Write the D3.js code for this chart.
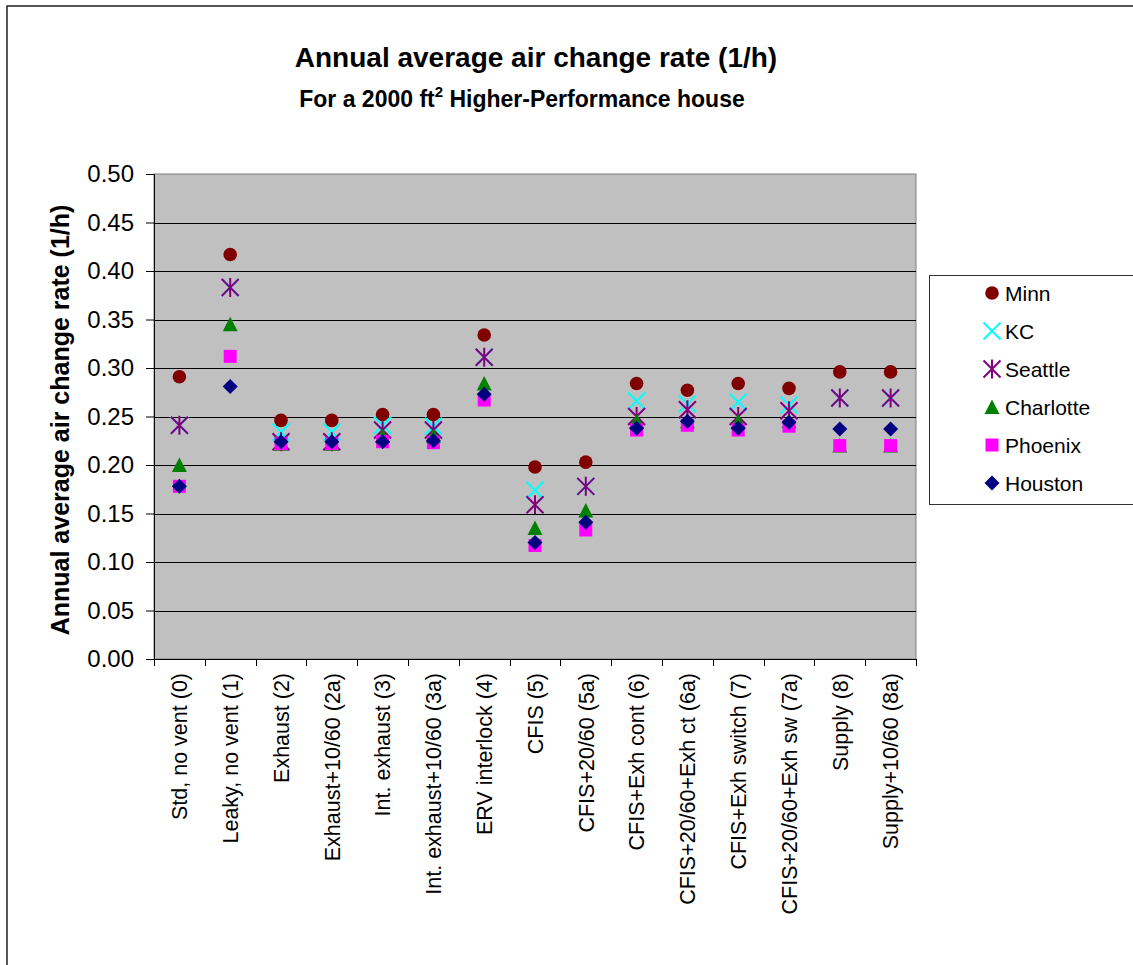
<!DOCTYPE html>
<html>
<head>
<meta charset="utf-8">
<script src="https://cdn.jsdelivr.net/npm/d3@7"></script>
<style>
  html, body { margin: 0; padding: 0; background: #fff; }
  svg { display: block; }
  text { font-family: "Liberation Sans", Arial, Helvetica, sans-serif; fill: #000; }
</style>
</head>
<body>
<svg id="chart" width="1133" height="965"></svg>
<script>
// Ventilation strategies (x categories)
const categories = [
  "Std, no vent (0)", "Leaky, no vent (1)", "Exhaust (2)", "Exhaust+10/60 (2a)",
  "Int. exhaust (3)", "Int. exhaust+10/60 (3a)", "ERV interlock (4)", "CFIS (5)",
  "CFIS+20/60 (5a)", "CFIS+Exh cont (6)", "CFIS+20/60+Exh ct (6a)", "CFIS+Exh switch (7)",
  "CFIS+20/60+Exh sw (7a)", "Supply (8)", "Supply+10/60 (8a)"
];

// Annual average air change rate (1/h) per city
const minn      = [0.291, 0.417, 0.246, 0.246, 0.252, 0.252, 0.334, 0.198, 0.203, 0.284, 0.277, 0.284, 0.279, 0.296, 0.296];
const kc        = [0.241, 0.383, 0.234, 0.234, 0.241, 0.240, 0.311, 0.174, 0.178, 0.266, 0.263, 0.265, 0.262, 0.269, 0.269];
const seattle   = [0.241, 0.383, 0.224, 0.224, 0.236, 0.236, 0.311, 0.159, 0.178, 0.250, 0.257, 0.250, 0.256, 0.269, 0.269];
const charlotte = [0.200, 0.345, 0.222, 0.222, 0.230, 0.230, 0.284, 0.135, 0.153, 0.245, 0.245, 0.245, 0.245, 0.220, 0.220];
const phoenix   = [0.178, 0.312, 0.222, 0.222, 0.224, 0.223, 0.267, 0.117, 0.133, 0.236, 0.241, 0.236, 0.240, 0.220, 0.220];
const houston   = [0.178, 0.281, 0.224, 0.224, 0.224, 0.225, 0.273, 0.120, 0.141, 0.238, 0.245, 0.238, 0.244, 0.237, 0.237];

const seriesNames = ["Minn", "KC", "Seattle", "Charlotte", "Phoenix", "Houston"];
const yTicks = [0.00, 0.05, 0.10, 0.15, 0.20, 0.25, 0.30, 0.35, 0.40, 0.45, 0.50];

const series = [
  { name: "Minn",      values: minn,      color: "#800000", shape: "circle" },
  { name: "KC",        values: kc,        color: "#00FFFF", shape: "cross" },
  { name: "Seattle",   values: seattle,   color: "#800080", shape: "asterisk" },
  { name: "Charlotte", values: charlotte, color: "#008000", shape: "triangle" },
  { name: "Phoenix",   values: phoenix,   color: "#FF00FF", shape: "square" },
  { name: "Houston",   values: houston,   color: "#000080", shape: "diamond" }
];

const svg = d3.select("#chart");
const plot = { left: 154, right: 916, top: 174, bottom: 659 };

const x = d3.scaleBand().domain(categories).range([plot.left, plot.right]).padding(0);
const y = d3.scaleLinear().domain([0, 0.5]).range([plot.bottom, plot.top]);

// Outer chart frame
svg.append("rect")
  .attr("x", 7).attr("y", 6).attr("width", 1140).attr("height", 975)
  .attr("fill", "none").attr("stroke", "#222").attr("stroke-width", 1.5);

// Titles
svg.append("text")
  .attr("x", 536).attr("y", 67)
  .attr("text-anchor", "middle")
  .attr("font-size", 28).attr("font-weight", "bold")
  .text("Annual average air change rate (1/h)");

const sub = svg.append("text")
  .attr("x", 522).attr("y", 107)
  .attr("text-anchor", "middle")
  .attr("font-size", 23).attr("font-weight", "bold");
sub.append("tspan").text("For a 2000 ft");
sub.append("tspan").attr("font-size", 15).attr("dy", -10).text("2");
sub.append("tspan").attr("dy", 10).text(" Higher-Performance house");

// Plot area background
svg.append("rect")
  .attr("x", plot.left).attr("y", plot.top)
  .attr("width", plot.right - plot.left).attr("height", plot.bottom - plot.top)
  .attr("fill", "#C0C0C0").attr("stroke", "#808080").attr("stroke-width", 1);

// Horizontal gridlines
svg.append("g")
  .selectAll("line")
  .data(yTicks.filter(t => t > 0 && t < 0.5))
  .join("line")
  .attr("x1", plot.left).attr("x2", plot.right)
  .attr("y1", d => Math.round(y(d)) + 0.5).attr("y2", d => Math.round(y(d)) + 0.5)
  .attr("stroke", "#000").attr("stroke-width", 1);

// Y axis
const yAxis = svg.append("g")
  .attr("transform", `translate(${plot.left},0)`)
  .call(d3.axisLeft(y).tickValues(yTicks).tickSize(8).tickPadding(12).tickFormat(d3.format(".2f")));
yAxis.select(".domain").attr("stroke", "#000");
yAxis.selectAll(".tick line").attr("stroke", "#000");
yAxis.selectAll(".tick text")
  .attr("font-size", 24)
  .attr("font-family", "'Liberation Sans', Arial, sans-serif")
  .attr("fill", "#000");

// X axis line and category boundary ticks
svg.append("line")
  .attr("x1", plot.left).attr("x2", plot.right)
  .attr("y1", plot.bottom + 0.5).attr("y2", plot.bottom + 0.5)
  .attr("stroke", "#000");
const boundaries = categories.map(c => x(c)).concat([x(categories[categories.length - 1]) + x.bandwidth()]);
svg.append("g").selectAll("line")
  .data(boundaries)
  .join("line")
  .attr("x1", d => Math.round(d) + 0.5).attr("x2", d => Math.round(d) + 0.5)
  .attr("y1", plot.bottom).attr("y2", plot.bottom + 7)
  .attr("stroke", "#000");

// Rotated category labels
svg.append("g").selectAll("text")
  .data(categories)
  .join("text")
  .attr("transform", d => `translate(${x(d) + x.bandwidth() / 2},673) rotate(-90)`)
  .attr("text-anchor", "end")
  .attr("dy", "0.36em")
  .attr("font-size", 21.5)
  .text(d => d);

// Y axis title
svg.append("text")
  .attr("transform", "translate(60,420) rotate(-90)")
  .attr("text-anchor", "middle")
  .attr("dy", "0.36em")
  .attr("font-size", 25).attr("font-weight", "bold")
  .text("Annual average air change rate (1/h)");

// Marker drawing
function drawMarker(g, shape, color) {
  switch (shape) {
    case "circle":
      g.append("circle").attr("r", 6.8).attr("fill", color);
      break;
    case "cross":
      g.append("path").attr("d", "M-8.5,-8.5L8.5,8.5M-8.5,8.5L8.5,-8.5")
        .attr("stroke", color).attr("stroke-width", 2).attr("fill", "none");
      break;
    case "asterisk":
      g.append("path").attr("d", "M-8.5,-8.5L8.5,8.5M-8.5,8.5L8.5,-8.5M0,-9.5L0,9.5")
        .attr("stroke", color).attr("stroke-width", 2).attr("fill", "none");
      break;
    case "triangle":
      g.append("path").attr("d", "M0,-7.5L7.5,7L-7.5,7Z").attr("fill", color);
      break;
    case "square":
      g.append("rect").attr("x", -6.5).attr("y", -6.5).attr("width", 13).attr("height", 13).attr("fill", color);
      break;
    case "diamond":
      g.append("path").attr("d", "M0,-7.5L7.5,0L0,7.5L-7.5,0Z").attr("fill", color);
      break;
  }
}

// Data points, drawn series by series
series.forEach(s => {
  const gs = svg.append("g").attr("class", "series");
  s.values.forEach((v, i) => {
    const c = categories[i];
    const g = gs.append("g")
      .attr("transform", `translate(${x(c) + x.bandwidth() / 2},${y(v)})`);
    drawMarker(g, s.shape, s.color);
  });
});

// Legend
const legend = svg.append("g");
legend.append("rect")
  .attr("x", 929.5).attr("y", 275.5).attr("width", 220).attr("height", 229)
  .attr("fill", "#fff").attr("stroke", "#333").attr("stroke-width", 1);
series.forEach((s, i) => {
  const cy = 293 + i * 38;
  const g = legend.append("g").attr("transform", `translate(992,${cy})`);
  drawMarker(g, s.shape, s.color);
  legend.append("text")
    .attr("x", 1005).attr("y", cy)
    .attr("dy", "0.36em")
    .attr("font-size", 21)
    .text(seriesNames[i]);
});
</script>
</body>
</html>
